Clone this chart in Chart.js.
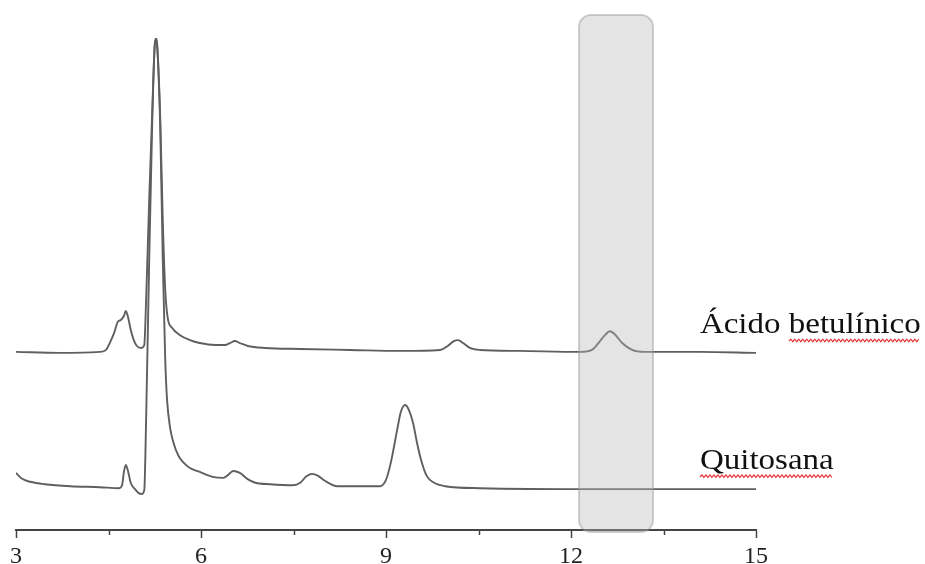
<!DOCTYPE html>
<html>
<head>
<meta charset="utf-8">
<script src="https://cdn.jsdelivr.net/npm/chart.js@4"></script>
<style>
  body { margin: 0; background: #fff; overflow: hidden; }
  #wrap { width: 925px; height: 564px; position: relative; }
</style>
</head>
<body>
<div id="wrap"><canvas id="Chromatogram"></canvas></div>
<script>
// retention time (min) and signal (arbitrary units)
const betulinicTime = [3.00, 3.71, 4.36, 4.46, 4.52, 4.59, 4.65, 4.70, 4.75, 4.78, 4.82, 4.86, 4.91, 4.96, 5.03, 5.08,
    5.11, 5.16, 5.21, 5.25, 5.27, 5.29, 5.34, 5.38, 5.42, 5.46, 5.53, 5.66, 5.82, 5.98, 6.23, 6.39, 6.47, 6.55, 6.63,
    6.76, 7.04, 7.61, 8.42, 9.23, 9.88, 10.00, 10.10, 10.17, 10.25, 10.36, 10.52, 11.17, 12.15, 12.34, 12.47, 12.55,
    12.63, 12.71, 12.83, 12.99, 13.20, 14.09, 15.00];
const betulinicSignal = [36.2, 36.0, 36.2, 36.6, 38.0, 40.0, 42.3, 42.7, 43.5, 44.5, 43.1, 40.7, 38.6, 37.4, 37.0, 37.6,
    46.7, 67.1, 85.4, 98.6, 100, 98.6, 83.3, 63.0, 48.8, 43.1, 41.1, 39.6, 38.6, 38.0, 37.6, 37.6, 38.0, 38.4, 38.0,
    37.4, 37.0, 36.8, 36.6, 36.4, 36.6, 37.4, 38.4, 38.6, 38.0, 37.0, 36.6, 36.4, 36.2, 36.6, 38.4, 39.6,
    40.4, 39.8, 38.0, 36.6, 36.2, 36.2, 36.0];

const quitosanaTime = [3.00, 3.10, 3.23, 3.47, 3.88, 4.36, 4.67, 4.72, 4.75, 4.78, 4.82, 4.86, 4.93, 4.99, 5.04, 5.08,
    5.11, 5.16, 5.21, 5.25, 5.27, 5.29, 5.34, 5.38, 5.42, 5.45, 5.50, 5.55, 5.63, 5.71, 5.82, 5.98, 6.19, 6.36, 6.44,
    6.52, 6.63, 6.75, 6.88, 7.12, 7.49, 7.61, 7.70, 7.80, 7.90, 8.01, 8.21, 8.58, 8.90, 9.00, 9.08, 9.18, 9.24, 9.31,
    9.37, 9.44, 9.50, 9.57, 9.66, 9.78, 9.96, 10.52, 12.47, 15.00];
const quitosanaSignal = [11.6, 10.4, 9.8, 9.3, 8.9, 8.7, 8.5, 9.1, 11.8, 13.2, 11.8, 9.6, 8.3, 7.5, 7.3, 8.1,
    22.4, 54.9, 83.3, 98.6, 99.6, 98.2, 81.3, 54.9, 34.6, 26.4, 20.7, 17.9, 15.2, 13.8, 12.6, 11.8, 10.8, 10.6, 11.2,
    12.0, 11.6, 10.4, 9.6, 9.3, 9.1, 9.6, 10.8, 11.4, 11.0, 10.0, 8.9, 8.9, 8.9, 10.2, 13.8, 20.3, 24.0, 25.4,
    24.4, 21.7, 17.9, 14.2, 11.0, 9.6, 8.9, 8.5, 8.3, 8.3];

const seriesNames = ['Ácido betulínico', 'Quitosana'];
const majorTicks = [3, 6, 9, 12, 15];
const minorTicks = [4.5, 7.5, 10.5, 13.5];
const highlightRange = [12.13, 13.33];
const labelAt = [14.09, 14.09];          // x where the trace names start
const labelLevel = [40.0, 12.4];         // signal level of the name baseline

function toPoints(xs, ys) {
    let pts = [];
    for (let i = 0; i < xs.length; i++) pts.push({x: xs[i], y: ys[i]});
    return pts;
}

dataset1 = {
    label: seriesNames[0],
    data: toPoints(betulinicTime, betulinicSignal),
    borderColor: '#5f5f5f',
    borderWidth: 1.9,
    pointRadius: 0,
    fill: false,
    cubicInterpolationMode: 'monotone'
};
dataset2 = {
    label: seriesNames[1],
    data: toPoints(quitosanaTime, quitosanaSignal),
    borderColor: '#5f5f5f',
    borderWidth: 1.9,
    pointRadius: 0,
    fill: false,
    cubicInterpolationMode: 'monotone'
};

function wavy(ctx, x0, x1, y) {
    ctx.beginPath();
    let up = true;
    ctx.moveTo(x0, y);
    for (let x = x0 + 2; x <= x1; x += 2) {
        ctx.lineTo(x, up ? y - 2 : y + 0.5);
        up = !up;
    }
    ctx.stroke();
}

const decorations = {
    id: 'decorations',
    afterDatasetsDraw(chart) {
        const ctx = chart.ctx;
        const xs = chart.scales.x;
        const area = chart.chartArea;
        // highlighted window
        const left = xs.getPixelForValue(highlightRange[0]);
        const right = xs.getPixelForValue(highlightRange[1]);
        ctx.save();
        ctx.beginPath();
        ctx.roundRect(left, area.top - 23, right - left, area.bottom - area.top + 25, 12);
        ctx.fillStyle = 'rgba(185,185,185,0.38)';
        ctx.fill();
        ctx.strokeStyle = 'rgba(150,150,150,0.45)';
        ctx.lineWidth = 2;
        ctx.stroke();
        ctx.restore();
    },
    afterDraw(chart) {
        const ctx = chart.ctx;
        const xs = chart.scales.x;
        const ys = chart.scales.y;
        const area = chart.chartArea;
        ctx.save();
        // minor ticks
        ctx.strokeStyle = '#444';
        ctx.lineWidth = 1.5;
        for (let t of minorTicks) {
            const px = Math.round(xs.getPixelForValue(t)) + 0.5;
            ctx.beginPath();
            ctx.moveTo(px, area.bottom);
            ctx.lineTo(px, area.bottom + 5);
            ctx.stroke();
        }
        // trace names
        const sx = 1.1;
        ctx.font = '30px "Liberation Serif", "Times New Roman", serif';
        ctx.fillStyle = '#111';
        ctx.textBaseline = 'alphabetic';
        for (let i = 0; i < seriesNames.length; i++) {
            const px = xs.getPixelForValue(labelAt[i]);
            const py = ys.getPixelForValue(labelLevel[i]);
            ctx.save();
            ctx.translate(px, py);
            ctx.scale(sx, 1);
            ctx.fillText(seriesNames[i], 0, 0);
            ctx.restore();
            // spell-check squiggle
            let start = px, end;
            if (i === 0) {
                start = px + ctx.measureText('Ácido ').width * sx;
            }
            end = px + ctx.measureText(seriesNames[i]).width * sx;
            ctx.strokeStyle = '#e53b3b';
            ctx.lineWidth = 1.2;
            wavy(ctx, start, end, py + 8);
        }
        ctx.restore();
    }
};

const CANVAS = document.getElementById('Chromatogram');
var Chromatogram = new Chart(CANVAS, {
    type: 'line',
    data: { datasets: [dataset1, dataset2] },
    options: {
        responsive: true,
        maintainAspectRatio: false,
        animation: false,
        layout: { padding: { left: 16, right: 169, top: 38, bottom: 0 } },
        plugins: {
            legend: { display: false },
            tooltip: { enabled: false }
        },
        scales: {
            x: {
                type: 'linear',
                min: 3,
                max: 15,
                afterFit: (scale) => { scale.height = 34; },
                afterBuildTicks: (scale) => { scale.ticks = majorTicks.map(v => ({value: v})); },
                ticks: {
                    color: '#222',
                    padding: 4,
                    maxRotation: 0,
                    autoSkip: false,
                    font: { family: '"Liberation Serif", "Times New Roman", serif', size: 24 }
                },
                grid: {
                    drawOnChartArea: false,
                    drawTicks: true,
                    tickLength: 8,
                    tickColor: '#444',
                    tickWidth: 1.5
                },
                border: { display: true, color: '#444', width: 2 }
            },
            y: {
                display: false,
                min: 0,
                max: 100
            }
        }
    },
    plugins: [decorations]
});
</script>
</body>
</html>
